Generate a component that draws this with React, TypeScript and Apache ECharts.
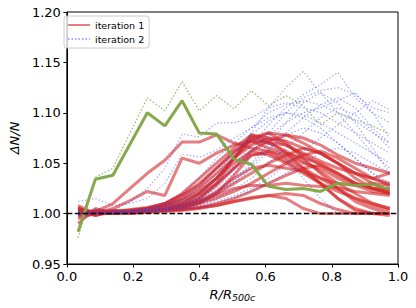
import React, { useEffect, useRef } from "react";
import * as echarts from "echarts";

const xs = [0.034, 0.086, 0.139, 0.191, 0.243, 0.296, 0.348, 0.4, 0.452, 0.505, 0.557, 0.609, 0.662, 0.714, 0.766, 0.818, 0.871, 0.923, 0.975];

const iteration1: number[][] = [
  [1.005, 1.0, 1.005, 1.013, 1.022, 1.018, 1.055, 1.05, 1.06, 1.068, 1.072, 1.065, 1.06, 1.055, 1.05, 1.04, 1.03, 1.025, 1.02],
  [1.0, 1.002, 1.01, 1.025, 1.04, 1.053, 1.071, 1.071, 1.078, 1.07, 1.065, 1.062, 1.058, 1.05, 1.045, 1.035, 1.028, 1.022, 1.02],
  [0.995, 1.0, 1.0, 1.002, 1.005, 1.01, 1.018, 1.03, 1.045, 1.06, 1.075, 1.07, 1.068, 1.06, 1.052, 1.045, 1.04, 1.035, 1.03],
  [1.008, 1.0, 1.002, 1.003, 1.005, 1.008, 1.015, 1.025, 1.04, 1.055, 1.068, 1.075, 1.072, 1.065, 1.06, 1.05, 1.04, 1.035, 1.04],
  [1.0, 1.0, 1.001, 1.002, 1.004, 1.006, 1.01, 1.02, 1.035, 1.055, 1.075, 1.08, 1.07, 1.055, 1.04, 1.025, 1.012, 1.005, 1.0],
  [0.99, 1.005, 1.0, 1.001, 1.002, 1.005, 1.008, 1.015, 1.03, 1.055, 1.078, 1.072, 1.06, 1.045, 1.03, 1.015, 1.003, 1.0, 1.0],
  [1.003, 0.998, 1.002, 1.001, 1.003, 1.004, 1.006, 1.012, 1.02, 1.03, 1.04, 1.05, 1.058, 1.065, 1.06, 1.05, 1.035, 1.025, 1.02],
  [1.0, 1.002, 1.0, 1.002, 1.003, 1.005, 1.008, 1.012, 1.018, 1.025, 1.028, 1.028, 1.03, 1.028, 1.027, 1.026, 1.022, 1.02, 1.018],
  [1.005, 1.0, 1.003, 1.0, 1.002, 1.003, 1.005, 1.01, 1.02, 1.038, 1.058, 1.062, 1.055, 1.045, 1.035, 1.025, 1.015, 1.008, 1.003],
  [1.0, 1.0, 1.001, 1.001, 1.002, 1.003, 1.004, 1.006, 1.01, 1.015, 1.022, 1.03, 1.038, 1.045, 1.048, 1.04, 1.03, 1.025, 1.025],
  [0.997, 1.002, 1.0, 1.002, 1.004, 1.008, 1.014, 1.022, 1.035, 1.05, 1.062, 1.058, 1.05, 1.04, 1.03, 1.015, 1.005, 1.0, 0.998],
  [1.002, 1.0, 1.002, 1.003, 1.005, 1.01, 1.02, 1.035, 1.05, 1.065, 1.078, 1.075, 1.068, 1.058, 1.048, 1.038, 1.03, 1.025, 1.022],
  [1.0, 0.999, 1.001, 1.002, 1.003, 1.004, 1.006, 1.01, 1.015, 1.022, 1.03, 1.04, 1.05, 1.058, 1.062, 1.055, 1.045, 1.035, 1.028],
  [1.004, 1.001, 1.0, 1.0, 1.001, 1.002, 1.003, 1.005, 1.008, 1.012, 1.016, 1.018, 1.015, 1.005, 1.0, 1.0, 1.0, 1.0, 1.0],
  [1.0, 1.003, 1.002, 1.004, 1.006, 1.01, 1.018, 1.028, 1.045, 1.062, 1.072, 1.07, 1.062, 1.052, 1.042, 1.03, 1.02, 1.01, 1.005],
  [1.006, 0.998, 1.003, 1.002, 1.002, 1.004, 1.007, 1.012, 1.022, 1.035, 1.045, 1.048, 1.045, 1.042, 1.035, 1.03, 1.028, 1.03, 1.028],
  [1.0, 1.0, 1.0, 1.001, 1.002, 1.004, 1.008, 1.015, 1.028, 1.045, 1.062, 1.072, 1.078, 1.075, 1.068, 1.058, 1.05, 1.045, 1.04],
  [0.998, 1.001, 1.001, 1.002, 1.003, 1.005, 1.01, 1.018, 1.03, 1.045, 1.058, 1.06, 1.052, 1.042, 1.03, 1.022, 1.015, 1.01, 1.005],
  [1.002, 1.0, 1.001, 1.003, 1.005, 1.008, 1.012, 1.02, 1.035, 1.055, 1.072, 1.08, 1.078, 1.07, 1.06, 1.05, 1.04, 1.03, 1.022],
  [1.001, 1.0, 1.002, 1.001, 1.002, 1.003, 1.004, 1.006, 1.008, 1.012, 1.015, 1.018, 1.02, 1.018, 1.01, 1.004, 1.0, 1.0, 1.0],
];

const iteration2: number[][] = [
  [1.012, 1.015, 1.008, 1.01, 1.015, 1.03, 1.059, 1.056, 1.063, 1.075, 1.085, 1.095, 1.1, 1.098, 1.09, 1.08, 1.07, 1.06, 1.05],
  [1.0, 1.005, 1.003, 1.012, 1.025, 1.045, 1.079, 1.076, 1.09, 1.09, 1.095, 1.105, 1.11, 1.105, 1.1, 1.09, 1.08, 1.07, 1.06],
  [1.0, 1.0, 1.002, 1.003, 1.005, 1.008, 1.012, 1.02, 1.035, 1.055, 1.08, 1.105, 1.125, 1.141, 1.12, 1.1, 1.08, 1.06, 1.045],
  [0.998, 1.002, 1.0, 1.002, 1.003, 1.005, 1.01, 1.018, 1.03, 1.048, 1.068, 1.088, 1.105, 1.118, 1.128, 1.14, 1.115, 1.1, 1.09],
  [1.002, 1.0, 1.001, 1.002, 1.004, 1.006, 1.01, 1.015, 1.025, 1.04, 1.06, 1.08, 1.1, 1.115, 1.122, 1.125, 1.118, 1.105, 1.1],
  [1.0, 1.001, 1.0, 1.001, 1.002, 1.004, 1.006, 1.01, 1.018, 1.03, 1.045, 1.062, 1.08, 1.095, 1.108, 1.115, 1.105, 1.085, 1.07],
  [1.0, 0.999, 1.001, 1.002, 1.003, 1.005, 1.008, 1.014, 1.022, 1.035, 1.05, 1.07, 1.09, 1.11, 1.12, 1.11, 1.09, 1.065, 1.04],
  [1.003, 1.0, 1.002, 1.002, 1.003, 1.004, 1.006, 1.01, 1.015, 1.024, 1.035, 1.05, 1.065, 1.08, 1.095, 1.105, 1.098, 1.082, 1.065],
  [1.0, 1.002, 1.001, 1.003, 1.005, 1.008, 1.014, 1.025, 1.04, 1.06, 1.078, 1.092, 1.1, 1.095, 1.085, 1.07, 1.055, 1.04, 1.03],
  [0.999, 1.0, 1.001, 1.001, 1.002, 1.003, 1.005, 1.008, 1.012, 1.018, 1.025, 1.035, 1.048, 1.062, 1.075, 1.088, 1.1, 1.112, 1.103],
  [1.0, 1.001, 1.002, 1.002, 1.003, 1.005, 1.008, 1.015, 1.028, 1.045, 1.062, 1.078, 1.09, 1.1, 1.105, 1.112, 1.12, 1.1, 1.075],
  [1.001, 1.0, 1.0, 1.002, 1.003, 1.004, 1.007, 1.012, 1.02, 1.032, 1.048, 1.065, 1.078, 1.085, 1.08, 1.07, 1.055, 1.04, 1.025],
  [1.0, 1.0, 1.001, 1.001, 1.002, 1.003, 1.004, 1.006, 1.01, 1.016, 1.022, 1.03, 1.04, 1.05, 1.06, 1.065, 1.06, 1.05, 1.04],
  [1.002, 1.001, 1.002, 1.003, 1.005, 1.01, 1.02, 1.035, 1.055, 1.07, 1.085, 1.1, 1.108, 1.112, 1.108, 1.1, 1.092, 1.08, 1.07],
  [1.0, 1.0, 1.001, 1.002, 1.004, 1.008, 1.015, 1.028, 1.045, 1.062, 1.075, 1.07, 1.055, 1.035, 1.015, 1.0, 1.0, 1.002, 1.0],
];

const greenSolid = [0.982, 1.034, 1.038, 1.069, 1.1, 1.087, 1.112, 1.08, 1.079, 1.054, 1.049, 1.027, 1.024, 1.025, 1.022, 1.03, 1.028, 1.029, 1.024];
const greenDotted = [0.976, 1.036, 1.045, 1.08, 1.115, 1.102, 1.131, 1.102, 1.117, 1.104, 1.122, 1.107, 1.117, 1.107, 1.088, 1.1, 1.093, 1.087, 1.079];

const yTicks = [0.95, 1.0, 1.05, 1.1, 1.15, 1.2];
const xTicks = [0.0, 0.2, 0.4, 0.6, 0.8, 1.0];

const FONT = "DejaVu Sans";

export default function App() {
  const ref = useRef<HTMLDivElement>(null);
  useEffect(() => {
    if (!ref.current) return;
    const chart = echarts.init(ref.current, undefined, { renderer: "svg" });
    const pts = (arr: number[]) => xs.map((x, i) => [x, arr[i]]);
    const series: any[] = [];
    iteration1.forEach((arr) => {
      series.push({
        type: "line",
        name: "iteration 1",
        data: pts(arr),
        symbol: "none",
        lineStyle: { color: "#d62728", width: 3, opacity: 0.6 },
        itemStyle: { color: "#d62728", opacity: 0.6 },
        z: 2,
      });
    });
    iteration2.forEach((arr) => {
      series.push({
        type: "line",
        name: "iteration 2",
        data: pts(arr),
        symbol: "none",
        lineStyle: { color: "#3344ee", width: 1.2, opacity: 0.45, type: [1.5, 2] },
        itemStyle: { color: "#3344ee", opacity: 0.45 },
        z: 3,
      });
    });
    series.push({
      type: "line",
      name: "green",
      data: pts(greenSolid),
      symbol: "none",
      lineStyle: { color: "#7fa443", width: 3, opacity: 0.95 },
      z: 4,
    });
    series.push({
      type: "line",
      name: "greenDotted",
      data: pts(greenDotted),
      symbol: "none",
      lineStyle: { color: "#8fae55", width: 1.2, opacity: 0.9, type: [1.5, 2] },
      z: 4,
    });
    series.push({
      type: "line",
      name: "ref",
      data: [[0, 1], [1, 1]],
      symbol: "none",
      lineStyle: { color: "#000", width: 1.5, type: [5.5, 2.4] },
      z: 6,
    });

    chart.setOption({
      animation: false,
      grid: { left: 60, right: 18, top: 12, bottom: 44, show: true, borderColor: "#000", borderWidth: 1, backgroundColor: "transparent" },
      legend: {
        data: ["iteration 1", "iteration 2"],
        left: 64,
        top: 16,
        orient: "vertical",
        itemWidth: 22,
        itemHeight: 10,
        itemGap: 4,
        padding: [4, 5, 4, 3],
        backgroundColor: "rgba(255,255,255,0.8)",
        borderColor: "#ccc",
        borderWidth: 1,
        borderRadius: 3,
        itemStyle: { opacity: 0 },
        textStyle: { fontFamily: FONT, fontSize: 9.5, color: "#000" },
      },
      xAxis: {
        type: "value",
        min: 0,
        max: 1,
        interval: 0.2,
        axisLine: { lineStyle: { color: "#000", width: 1 } },
        axisTick: { inside: false, length: 3.5, lineStyle: { color: "#000" } },
        axisLabel: {
          fontFamily: FONT,
          fontSize: 13,
          color: "#000",
          margin: 6,
          formatter: (v: number) => {
            const t = xTicks.find((k) => Math.abs(k - v) < 1e-6);
            return t === undefined ? "" : t.toFixed(1);
          },
        },
        splitLine: { show: false },
        name: "{a|R/R}{b|500c}",
        nameLocation: "middle",
        nameGap: 21,
        nameTextStyle: {
          verticalAlign: "top",
          rich: {
            a: { fontFamily: FONT, fontSize: 13, fontStyle: "italic", color: "#000" },
            b: { fontFamily: FONT, fontSize: 9.5, fontStyle: "italic", color: "#000", verticalAlign: "bottom", padding: [6, 0, 0, 0] },
          },
        },
      },
      yAxis: {
        type: "value",
        min: 0.95,
        max: 1.2,
        interval: 0.05,
        axisLine: { show: true, lineStyle: { color: "#000", width: 1 } },
        axisTick: { show: true, inside: false, length: 3.5, lineStyle: { color: "#000" } },
        axisLabel: {
          fontFamily: FONT,
          fontSize: 13,
          color: "#000",
          margin: 6,
          formatter: (v: number) => {
            const t = yTicks.find((k) => Math.abs(k - v) < 1e-6);
            return t === undefined ? "" : t.toFixed(2);
          },
        },
        splitLine: { show: false },
        name: "ΔN/N",
        nameLocation: "middle",
        nameGap: 44,
        nameRotate: 90,
        nameTextStyle: { fontFamily: FONT, fontSize: 13, fontStyle: "italic", color: "#000" },
      },
      series,
    });
    return () => chart.dispose();
  }, []);
  return <div ref={ref} style={{ width: 416, height: 308, position: "absolute", left: 0, top: 0 }} />;
}
